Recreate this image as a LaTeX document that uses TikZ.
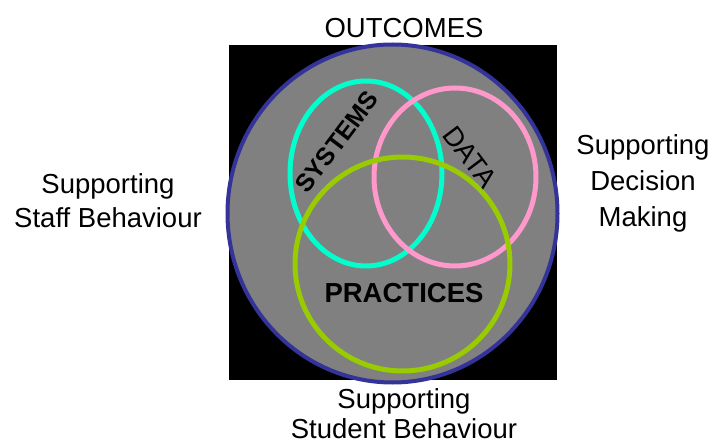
\documentclass[tikz,border=0pt]{standalone}
\usepackage{fontspec}
\setmainfont{Liberation Sans}
\definecolor{navy}{RGB}{51,51,153}
\definecolor{aqua}{RGB}{0,255,204}
\definecolor{rose}{RGB}{255,153,204}
\definecolor{lime}{RGB}{153,204,0}
\definecolor{midgray}{RGB}{128,128,128}
\tikzset{
  side/.style={align=center,anchor=base,inner sep=0pt},
  inner/.style={font=\fontsize{27.5}{30}\selectfont}
}

\begin{document}
\begin{tikzpicture}[x=1pt,y=-1pt]
  \useasboundingbox (0,0) rectangle (713,444);
  \fill[black] (229,45) rectangle (557,380);
  \draw[navy,line width=4,fill=midgray] (392.5,213.5) ellipse [x radius=165, y radius=169];
    \draw[aqua,line width=5] (366,173.5) ellipse [x radius=76, y radius=92.5];
    \draw[rose,line width=5] (455,177) ellipse [x radius=81, y radius=89];
    \draw[lime,line width=5] (402.5,264) ellipse [x radius=107.5, y radius=107];
    %\draw (392.5,213.5) node {+};
    \node[inner,font=\fontsize{27.5}{30}\bfseries,anchor=base] (practices) at (404,302) {PRACTICES};
    \node[inner,font=\fontsize{25}{30}\bfseries,rotate=53] (systems) at (337,142) {SYSTEMS};
    \node[inner,rotate=-53] (data) at (470,157) {DATA};
  \node[side,font=\fontsize{27.5}{30}\selectfont] (outcomes) at (404,38) {OUTCOMES};
  \node[side,font=\fontsize{27.5}{34}\selectfont] (staff) at (108,227) {Supporting\\Staff Behaviour};
  \node[side,font=\fontsize{27.5}{36}\selectfont] (decision) at (643,226) {Supporting\\Decision\\Making};
  \node[side,font=\fontsize{27.5}{30}\selectfont] (student) at (404,438) {Supporting\\Student Behaviour};
\end{tikzpicture}
\end{document}
